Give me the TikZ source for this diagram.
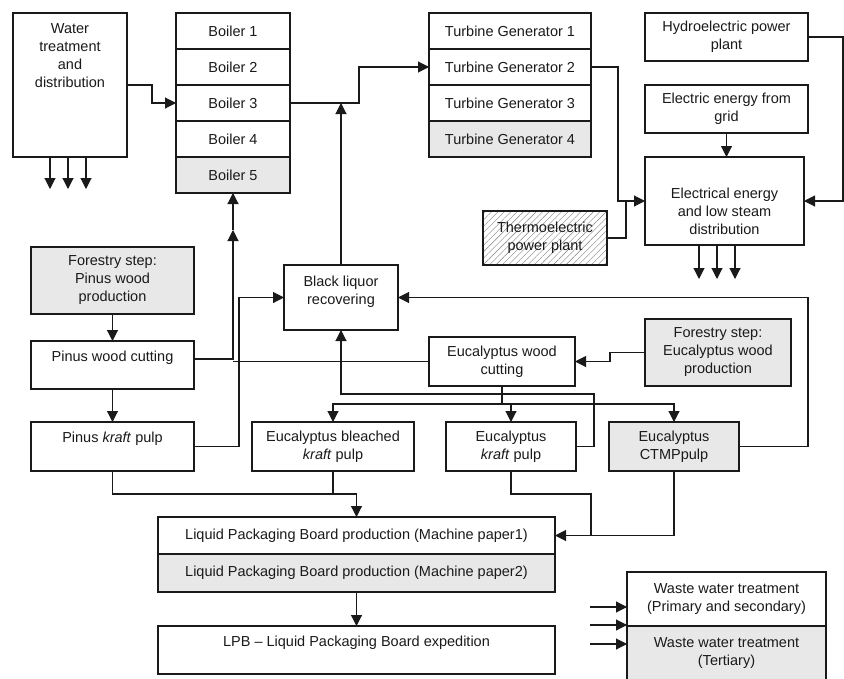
\documentclass[tikz,border=0pt]{standalone}
\usepackage{fontspec}
\setmainfont{Liberation Sans}
\usetikzlibrary{arrows.meta,patterns.meta}
\definecolor{lg}{HTML}{E8E8E8}
\definecolor{ink}{HTML}{1A1A1A}
\newcommand\mkbox[6]{\node[#6, minimum width={(#4)-(#2)}, minimum height={(#5)-(#3)}] (#1) at ({((#2)+(#4))/2},{((#3)+(#5))/2})}
\begin{document}
\begin{tikzpicture}[x=1pt,y=-1pt,
  box/.style={draw=ink, line width=1.2pt, inner sep=0pt, outer sep=0pt, align=center,
    font=\fontsize{14.5}{18}\selectfont, text=ink},
  gbox/.style={box, fill=lg},
  hbox/.style={box, preaction={fill=white}, pattern={Lines[angle=45,distance=4.5pt,line width=0.4pt]}, pattern color=gray},
  txt/.style={inner sep=0pt, align=center, font=\fontsize{14.5}{18}\selectfont, text=ink},
  ln/.style={line width=1.1pt, draw=ink},
  arr/.style={ln, -{Triangle[length=11pt,width=11pt]}}]
\fill[white] (0,0) rectangle (844,678);
\clip (0,0) rectangle (844,678);
% boxes
\mkbox{water}{13}{13}{127}{157}{box}{};
\node[txt, anchor=north] (watertxt) at (70,23) {Water\\treatment\\and\\distribution};
\mkbox{b1}{176}{13}{290}{49}{box}{Boiler 1};
\mkbox{b2}{176}{49}{290}{85}{box}{Boiler 2};
\mkbox{b3}{176}{85}{290}{121}{box}{Boiler 3};
\mkbox{b4}{176}{121}{290}{157}{box}{Boiler 4};
\mkbox{b5}{176}{157}{290}{193}{gbox}{Boiler 5};
\mkbox{tg1}{429}{13}{591}{49}{box}{Turbine Generator 1};
\mkbox{tg2}{429}{49}{591}{85}{box}{Turbine Generator 2};
\mkbox{tg3}{429}{85}{591}{121}{box}{Turbine Generator 3};
\mkbox{tg4}{429}{121}{591}{157}{gbox}{Turbine Generator 4};
\mkbox{hydro}{645}{13}{808}{61}{box}{Hydroelectric power\\plant};
\mkbox{grid}{645}{85}{808}{133}{box}{Electric energy from\\grid};
\mkbox{elec}{645}{157}{804}{245}{box}{};
\node[txt] (electxt) at (724.5,211) {Electrical energy\\and low steam\\distribution};
\mkbox{thermo}{483}{211}{607}{265}{hbox}{Thermoelectric\\power plant};
\mkbox{fpin}{31}{247}{194}{314}{gbox}{Forestry step:\\Pinus wood\\production};
\mkbox{blr}{284}{265}{398}{330}{box}{};
\node[txt] (blrtxt) at (341,292) {Black liquor\\recovering};
\mkbox{pwc}{31}{341}{194}{389}{box}{Pinus wood cutting\\\mbox{}};
\mkbox{ewc}{429}{337}{575}{386}{box}{Eucalyptus wood\\cutting};
\mkbox{feuc}{645}{319}{791}{386}{gbox}{Forestry step:\\Eucalyptus wood\\production};
\mkbox{pkp}{31}{422}{194}{471}{box}{Pinus \textit{kraft} pulp\\\mbox{}};
\mkbox{ebk}{252}{422}{414}{471}{box}{Eucalyptus bleached\\\textit{kraft} pulp};
\mkbox{ekp}{446}{422}{576}{471}{box}{Eucalyptus\\\textit{kraft} pulp};
\mkbox{ctmp}{609}{422}{739}{471}{gbox}{Eucalyptus\\CTMPpulp};
\mkbox{lpb1}{158}{517}{555}{554}{box}{Liquid Packaging Board production (Machine paper1)};
\mkbox{lpb2}{158}{554}{555}{592}{gbox}{Liquid Packaging Board production (Machine paper2)};
\mkbox{lpbe}{158}{626}{555}{674}{box}{LPB \textendash\ Liquid Packaging Board expedition\\\mbox{}};
\mkbox{ww1}{627}{572}{826}{626}{box}{Waste water treatment\\(Primary and secondary)};
\mkbox{ww2}{627}{626}{826}{680}{gbox}{Waste water treatment\\(Tertiary)};
% free ends
\foreach \x/\n in {50/1,68/2,86/3} {
  \coordinate (wo\n) at (\x,189);
  \draw[arr] (water.south -| wo\n) -- (wo\n);
}
\foreach \x/\n in {699/1,717/2,735/3} {
  \coordinate (eo\n) at (\x,279);
  \draw[arr] (elec.south -| eo\n) -- (eo\n);
}
\foreach \y/\n in {607/1,625/2,644/3} {
  \coordinate (wi\n) at (590,\y);
  \draw[arr] (wi\n) -- (ww1.west |- wi\n);
}
% connectors
\draw[arr] (water.east |- 0,85) -- (152,85) |- (b3.west);
\draw[arr] (b3.east) -- (b3.east -| 359,0) |- (tg2.west);
\draw[arr] (blr.north) -- (blr.north |- b3.east);
\coordinate (bj) at (233,230);
\draw[arr] (pwc.east |- 0,359) -| (bj);
\draw[arr] (bj) -- (b5.south);
\draw[ln] (ewc.west) -- (ewc.west -| bj);
\draw[arr] (fpin.south) -- (pwc.north);
\draw[arr] (pwc.south) -- (pkp.north);
\draw[arr] (pkp.east) -- (pkp.east -| 239,0) |- (blr.west);
\draw[arr] (pkp.south) |- (lpb1.north |- 0,494) -- (lpb1.north);
\draw[ln] (ebk.south) -- (ebk.south |- 0,494);
\draw[arr] (feuc.west) -- (feuc.west -| 610,0) |- (ewc.east);
\coordinate (ej) at (ewc.south |- 0,404);
\draw[ln] (ewc.south) -- (ej);
\draw[arr] (ej) -| (ebk.north);
\draw[arr] (ej) -| (ekp.north);
\draw[arr] (ej) -| (ctmp.north);
\draw[arr] (ekp.east) -- (ekp.east -| 594,0) |- (blr.south |- 0,394) -- (blr.south);
\draw[arr] (ctmp.east) -- (ctmp.east -| 808,0) |- (blr.east);
\draw[arr] (ekp.south) |- (591,494) |- (lpb1.east);
\draw[ln] (ctmp.south) |- (lpb1.east -| 591,0);
\draw[arr] (lpb2.south) -- (lpbe.north);
\draw[arr] (tg2.east) -- (tg2.east -| 618,0) |- (elec.west);
\draw[ln] (thermo.east) -| (elec.west -| 626,0);
\draw[arr] (hydro.east) -- (hydro.east -| 843,0) |- (elec.east);
\draw[arr] (grid.south) -- (grid.south |- elec.north);
\end{tikzpicture}
\end{document}
